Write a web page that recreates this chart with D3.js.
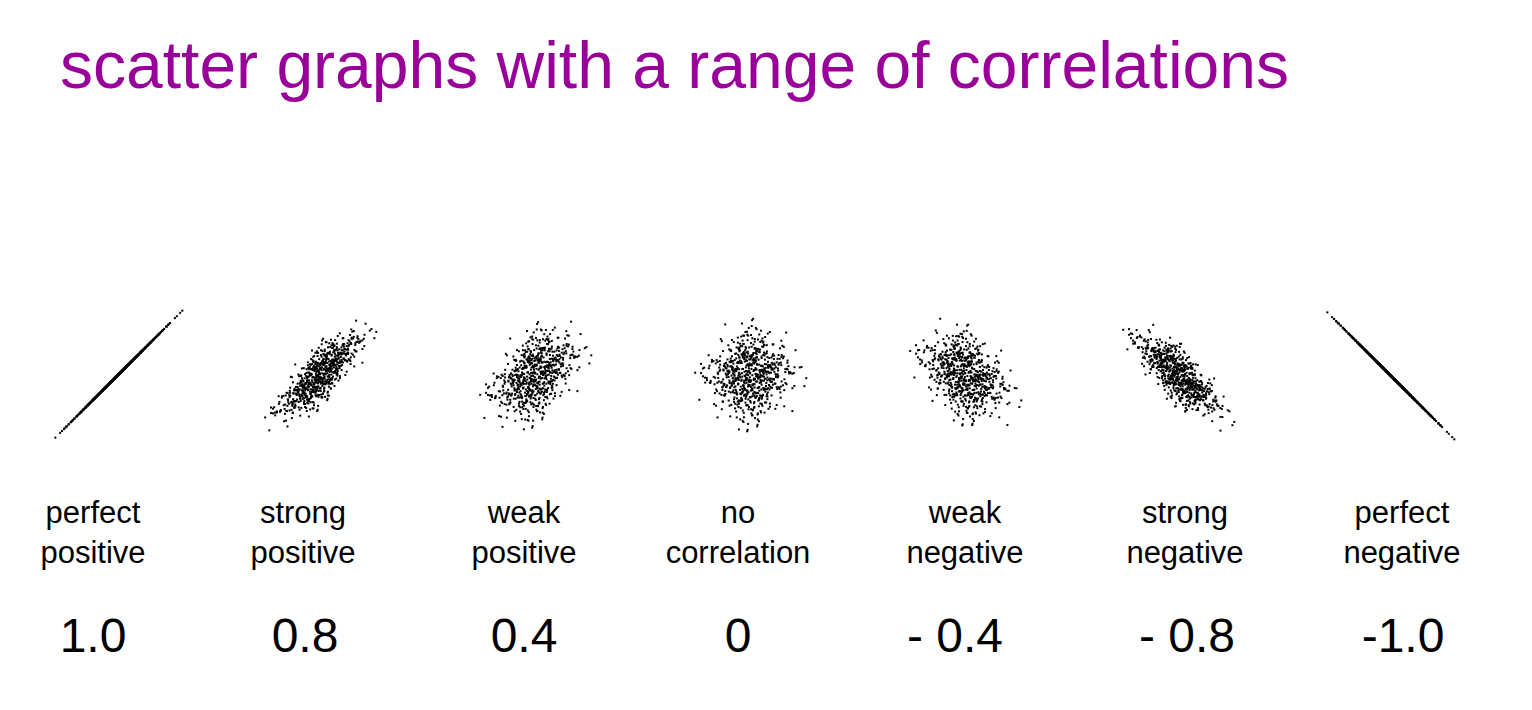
<!DOCTYPE html>
<html><head><meta charset="utf-8">
<script src="https://cdn.jsdelivr.net/npm/d3@7"></script>
<style>body{margin:0;background:#fff}</style></head>
<body><svg id="c" width="1532" height="710"></svg>
<script>
const title = "scatter graphs with a range of correlations";
const labels1 = ["perfect","strong","weak","no","weak","strong","perfect"];
const labels2 = ["positive","positive","positive","correlation","negative","negative","negative"];
const valueLabels = ["1.0","0.8","0.4","0","- 0.4","- 0.8","-1.0"];
const correlations = [1.0, 0.8, 0.4, 0, -0.4, -0.8, -1.0];
const centersX = [118, 320, 535, 750, 965, 1178, 1390];
const labelX = [93, 303, 524, 738, 965, 1185, 1402];
const valueX = [93, 305, 524, 738, 955, 1187, 1403];
// hand-written standardized base cloud (u, v)
const baseU = [0.12,-0.85,1.34,-0.41,0.67,-1.52,0.03,2.11,-0.28,0.95,-1.07,0.46,-0.63,1.78,-2.24,0.31,-0.12,0.88,-0.97,1.15,
-0.55,0.22,-1.31,0.74,-0.06,1.49,-1.88,0.58,-0.34,0.09,1.02,-0.77,0.41,-2.61,0.66,-0.19,1.27,-0.48,0.17,-1.13,
2.45,-0.92,0.36,-0.25,0.81,-1.66,0.07,1.61,-0.58,0.29,-0.03,1.09,-1.39,0.52,-0.71,0.95,-0.14,1.92,-1.01,0.26,
-0.44,0.63,-2.05,0.14,0.87,-0.31,1.36,-0.82,0.48,-1.24,0.01,0.72,-0.62,1.21,-1.74,0.39,-0.09,2.68,-0.53,0.18,
0.99,-1.45,0.55,-0.21,1.57,-0.88,0.11,-1.97,0.69,-0.37,1.41,-0.66,0.24,-1.18,0.83,-0.02,1.69,-0.79,0.33,-2.33,
0.59,-0.16,1.05,-1.28,0.44,-0.69,0.15,1.83,-0.46,0.77,-1.59,0.21,-0.95,1.31,-0.27,0.62,-1.04,2.02,-0.38,0.05,
1.18,-0.74,0.49,-1.42,0.93,-0.11,0.37,-2.18,0.71,-0.57,1.46,-0.86,0.19,-1.21,0.85,-0.33,1.63,-0.51,0.27,-0.99];
const baseV = [-0.64,0.37,0.21,-1.18,1.44,0.05,-0.29,-0.52,1.87,-1.36,0.74,-0.09,-2.02,0.58,0.31,1.12,-0.83,-1.61,0.16,0.92,
1.29,-0.44,-0.71,-0.18,2.24,0.47,-0.36,-1.04,0.83,-1.92,0.26,1.57,-0.61,0.11,-0.27,0.69,-1.43,0.02,1.05,-0.56,
0.38,1.19,-2.37,0.64,-0.92,-0.13,0.51,1.34,-1.27,-0.07,0.88,-0.46,1.71,-0.33,0.22,-1.51,2.06,0.13,-0.79,-1.09,
0.57,0.96,-0.24,-1.68,0.34,1.48,-0.58,0.07,-0.97,0.43,-1.24,1.81,0.28,-0.41,0.66,-0.86,1.02,-0.15,-2.59,0.79,
-0.32,0.18,1.63,-1.13,-0.49,0.61,-0.01,0.94,-1.79,1.37,-0.67,0.24,-0.19,2.41,-1.02,0.55,-0.38,-0.73,1.16,0.09,
-1.47,0.83,0.32,-0.21,1.93,-0.54,-0.88,0.42,-0.11,-1.31,0.71,1.26,-0.62,0.04,-0.95,1.54,0.19,-1.72,0.97,-0.26,
0.48,-0.04,-1.36,0.89,-0.69,1.11,-2.12,0.35,0.73,-0.44,-1.08,1.67,-0.17,0.53,-0.83,0.29,-1.49,0.86,-0.31,1.22];

const svg = d3.select("#c");
const tf = "Liberation Sans, Arial, sans-serif";
svg.append("text").attr("x",60).attr("y",88).attr("fill","#990099")
  .attr("font-family",tf).attr("font-size",66).text(title);

const cy = 375;
correlations.forEach((r, i) => {
  const sd = Math.abs(r) === 1 ? 24 : 21;
  const x = d3.scaleLinear().domain([-1,1]).range([centersX[i]-sd, centersX[i]+sd]);
  const y = d3.scaleLinear().domain([-1,1]).range([cy+sd, cy-sd]);
  const s = Math.sqrt(Math.max(0,1-r*r));
  const pts = [];
  baseU.forEach((u,k)=>{
    const v = baseV[k];
    pts.push([u, r*u + s*v]);
    pts.push([-v, r*(-v) + s*u]);
    pts.push([v*0.9, r*v*0.9 + s*(-u)]);
    pts.push([-u*0.8, r*(-u*0.8) + s*(v*0.85)]);
    pts.push([v*0.6, r*v*0.6 + s*(u*0.7)]);
  });
  svg.append("g").selectAll("rect").data(pts).join("rect")
    .attr("x",d=>x(d[0])-1).attr("y",d=>y(d[1])-1)
    .attr("width",2).attr("height",2).attr("fill","#000");
  svg.append("text").attr("x",labelX[i]).attr("y",523).attr("text-anchor","middle")
    .attr("font-family",tf).attr("font-size",31).text(labels1[i]);
  svg.append("text").attr("x",labelX[i]).attr("y",563).attr("text-anchor","middle")
    .attr("font-family",tf).attr("font-size",31).text(labels2[i]);
  svg.append("text").attr("x",valueX[i]).attr("y",652).attr("text-anchor","middle")
    .attr("font-family",tf).attr("font-size",48).text(valueLabels[i]);
});
</script></body></html>
